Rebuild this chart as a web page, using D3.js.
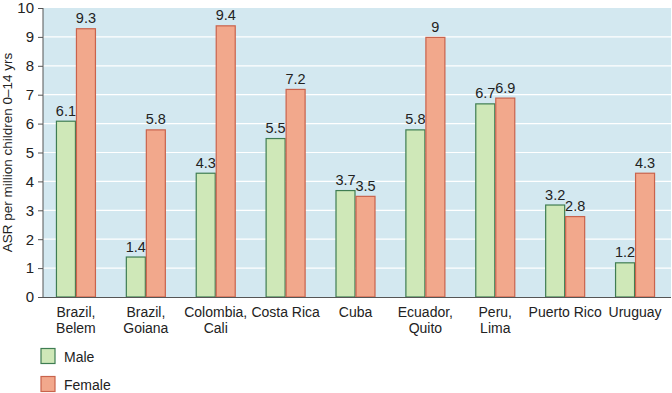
<!DOCTYPE html>
<html>
<head>
<meta charset="utf-8">
<script src="https://cdn.jsdelivr.net/npm/d3@7"></script>
<style>
  body { margin: 0; background: #fff; }
  text { font-family: "Liberation Sans", Arial, sans-serif; fill: #222; }
</style>
</head>
<body>
<div id="chart"></div>
<script>
// data
var categories = ['Brazil,|Belem', 'Brazil,|Goiana', 'Colombia,|Cali', 'Costa Rica', 'Cuba',
                  'Ecuador,|Quito', 'Peru,|Lima', 'Puerto Rico', 'Uruguay'];
var male   = [6.1, 1.4, 4.3, 5.5, 3.7, 5.8, 6.7, 3.2, 1.2];
var female = [9.3, 5.8, 9.4, 7.2, 3.5, 9, 6.9, 2.8, 4.3];
var yTicks = [0, 1, 2, 3, 4, 5, 6, 7, 8, 9, 10];
var seriesNames = ['Male', 'Female'];

var width = 672, height = 393;
var plot = { left: 43, right: 670, top: 8, bottom: 297 };
var fills = ['#cfe8b8', '#f2a88c'];
var strokes = ['#3f7d52', '#c9634c'];

var svg = d3.select('#chart').append('svg')
  .attr('width', width)
  .attr('height', height);

var x = d3.scaleBand()
  .domain(categories)
  .range([41, 670]);

var y = d3.scaleLinear()
  .domain([0, 10])
  .range([plot.bottom, plot.top]);

var barW = 20;

// background
svg.append('rect')
  .attr('x', plot.left)
  .attr('y', plot.top)
  .attr('width', plot.right - plot.left + 1)
  .attr('height', plot.bottom - plot.top)
  .attr('fill', '#d3e8f0');

// gridlines
svg.append('g').selectAll('line')
  .data(yTicks.filter(function(d) { return d > 0 && d < 10; }))
  .enter().append('line')
  .attr('x1', plot.left)
  .attr('x2', plot.right + 1)
  .attr('y1', function(d) { return y(d); })
  .attr('y2', function(d) { return y(d); })
  .attr('stroke', '#fff')
  .attr('stroke-width', 1.2);

// bars
var series = [male, female];
series.forEach(function(vals, s) {
  var g = svg.append('g');
  g.selectAll('rect')
    .data(vals)
    .enter().append('rect')
    .attr('x', function(d, i) { return x(categories[i]) + x.bandwidth() / 2 - barW + s * barW + 0.5; })
    .attr('y', function(d) { return y(d) + 0.5; })
    .attr('width', barW - 1)
    .attr('height', function(d) { return y(0) - y(d) - 0.5; })
    .attr('fill', fills[s])
    .attr('stroke', strokes[s])
    .attr('stroke-width', 1.2);

  g.selectAll('text')
    .data(vals)
    .enter().append('text')
    .attr('x', function(d, i) { return x(categories[i]) + x.bandwidth() / 2 - barW / 2 + s * barW; })
    .attr('y', function(d) { return y(d) - 5; })
    .attr('text-anchor', 'middle')
    .attr('font-size', 14.5)
    .text(function(d) { return d; });
});

// y axis
var yAxis = d3.axisLeft(y)
  .tickValues(yTicks)
  .tickSize(5)
  .tickPadding(4);

var yg = svg.append('g')
  .attr('transform', 'translate(' + plot.left + ',0)')
  .call(yAxis);
yg.selectAll('text').attr('font-size', 15).attr('fill', '#222');
yg.selectAll('line, path').attr('stroke', '#555');
yg.select('.domain').attr('d', 'M0,' + plot.bottom + 'V' + plot.top);

// x axis line
svg.append('line')
  .attr('x1', plot.left - 5)
  .attr('x2', plot.right + 1)
  .attr('y1', plot.bottom + 0.5)
  .attr('y2', plot.bottom + 0.5)
  .attr('stroke', '#555')
  .attr('stroke-width', 1.2);

// category labels
var cat = svg.append('g').selectAll('text')
  .data(categories)
  .enter().append('text')
  .attr('text-anchor', 'middle')
  .attr('font-size', 14)
  .attr('x', function(d) { return x(d) + x.bandwidth() / 2; })
  .attr('y', 317);
cat.each(function(d) {
  var parts = d.split('|');
  var t = d3.select(this);
  parts.forEach(function(p, i) {
    t.append('tspan')
      .attr('x', x(d) + x.bandwidth() / 2)
      .attr('dy', i === 0 ? 0 : 16)
      .text(p);
  });
});

// y title
svg.append('text')
  .attr('transform', 'translate(12,' + (plot.top + plot.bottom) / 2 + ') rotate(-90)')
  .attr('text-anchor', 'middle')
  .attr('font-size', 13.5)
  .text('ASR per million children 0\u201314 yrs');

// legend
var legend = svg.append('g').selectAll('g')
  .data(seriesNames)
  .enter().append('g')
  .attr('transform', function(d, i) { return 'translate(41,' + (348.5 + i * 28) + ')'; });
legend.append('rect')
  .attr('width', 14)
  .attr('height', 15)
  .attr('fill', function(d, i) { return fills[i]; })
  .attr('stroke', function(d, i) { return strokes[i]; })
  .attr('stroke-width', 1.2);
legend.append('text')
  .attr('x', 23)
  .attr('y', 13)
  .attr('font-size', 14)
  .text(function(d) { return d; });
</script>
</body>
</html>
